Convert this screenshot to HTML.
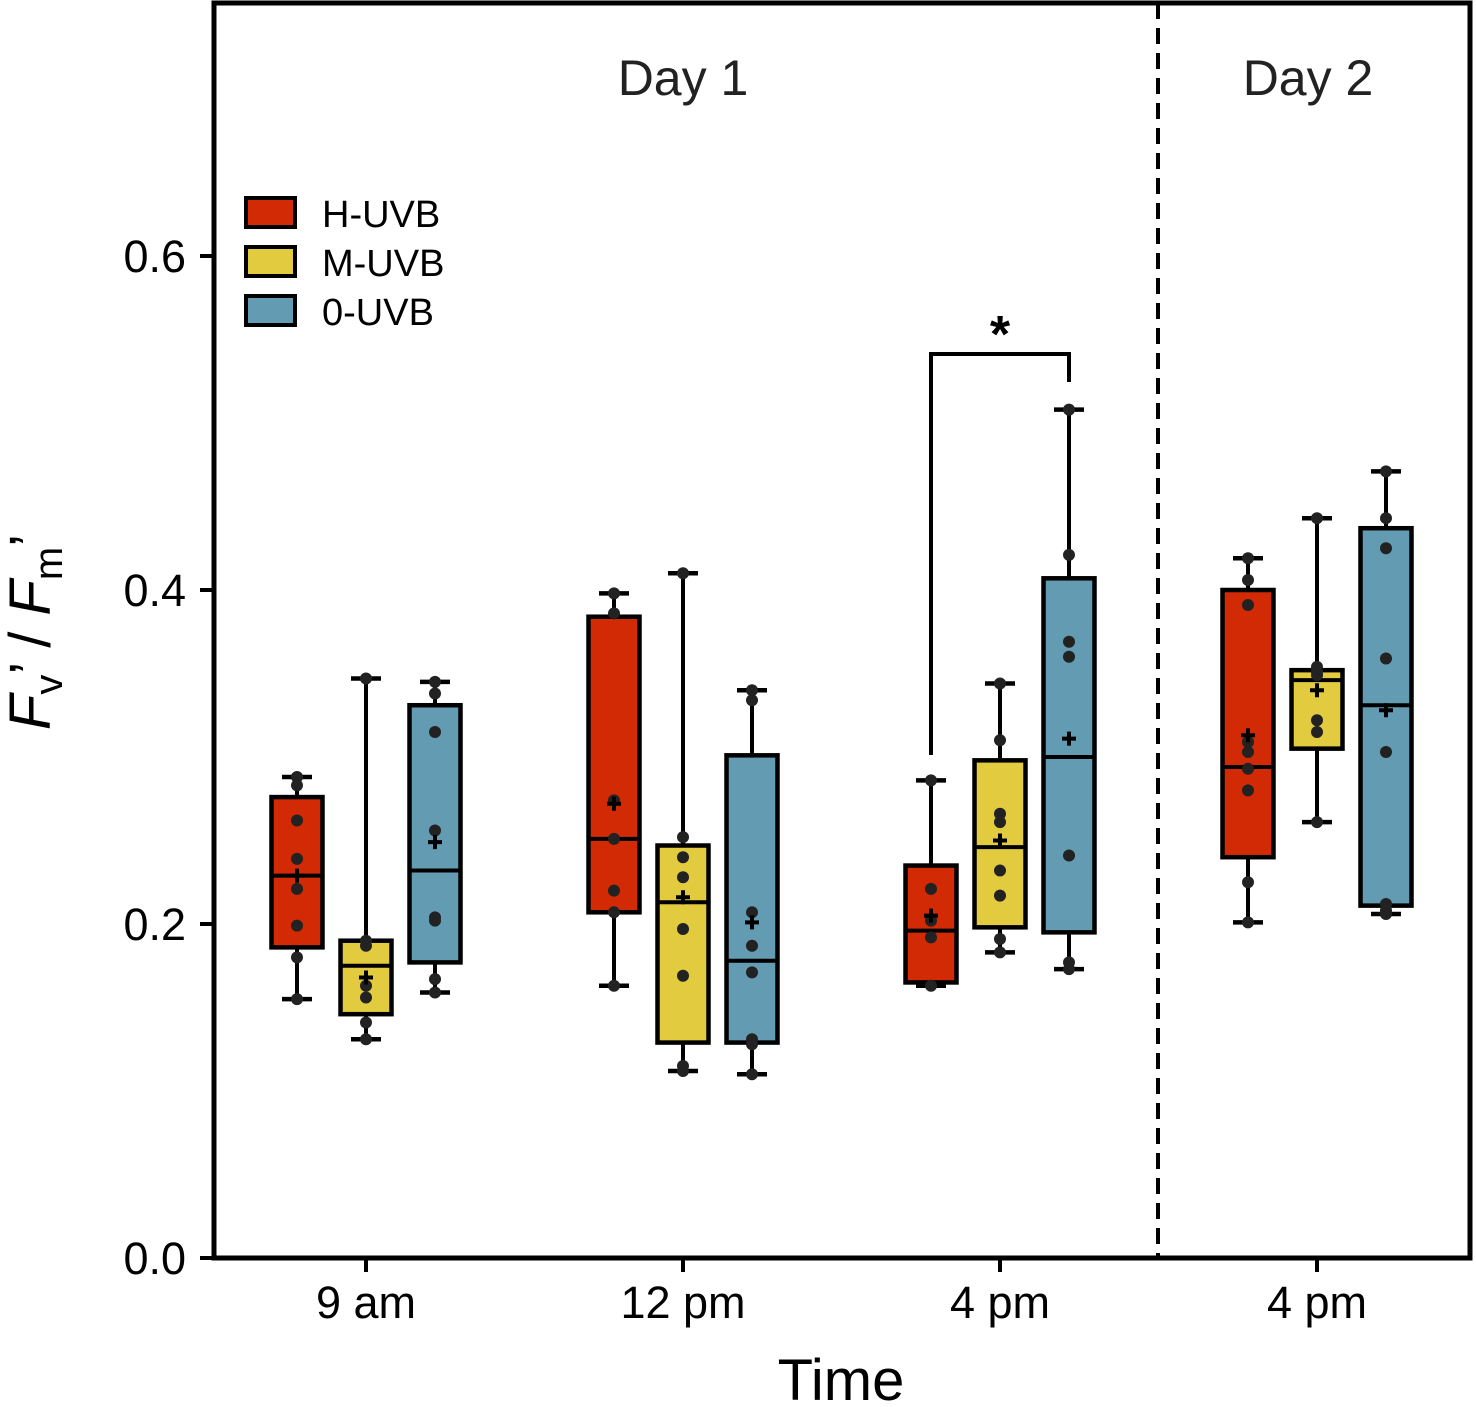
<!DOCTYPE html>
<html><head><meta charset="utf-8"><style>
body{margin:0;background:#fff}
svg{display:block;font-family:"Liberation Sans",sans-serif}
</style></head><body>
<svg id="c" width="1476" height="1407" viewBox="0 0 1476 1407">
<g><rect x="214" y="3" width="1256" height="1255" fill="none" stroke="#000" stroke-width="5"/></g>
<line x1="1158" y1="3" x2="1158" y2="1258" stroke="#000" stroke-width="4" stroke-dasharray="16,9"/>
<text x="683" y="95" text-anchor="middle" font-size="50" fill="#222">Day 1</text>
<text x="1308" y="95" text-anchor="middle" font-size="50" fill="#222">Day 2</text>
<path d="M931 755V354H1069V382" fill="none" stroke="#000" stroke-width="4"/>
<text x="1000" y="352" text-anchor="middle" font-size="52" font-weight="bold">*</text>
<g>
<rect x="246" y="198" width="49" height="29" fill="#d12a05" stroke="#000" stroke-width="4"/>
<rect x="246" y="247" width="49" height="29" fill="#e3cb3f" stroke="#000" stroke-width="4"/>
<rect x="246" y="296" width="49" height="29" fill="#629bb2" stroke="#000" stroke-width="4"/>
<text x="322" y="227" font-size="38" fill="#000">H-UVB</text>
<text x="322" y="276" font-size="38" fill="#000">M-UVB</text>
<text x="322" y="325" font-size="38" fill="#000">0-UVB</text>
</g>
<text x="841" y="1400" text-anchor="middle" font-size="58" fill="#000">Time</text>
<text transform="translate(50,632) rotate(-90)" text-anchor="middle" font-size="58" fill="#000"><tspan font-style="italic">F</tspan><tspan font-size="40" dy="12">v</tspan><tspan dy="-12">’ / </tspan><tspan font-style="italic">F</tspan><tspan font-size="40" dy="12">m</tspan><tspan dy="-12">’</tspan></text>
<g id="plot"></g>
</svg>
<script>
const groups=["9 am","12 pm","4 pm","4 pm"];
const series=["H-UVB","M-UVB","0-UVB"];
const colors=["#d12a05","#e3cb3f","#629bb2"];
// [whiskerLo,q1,median,q3,whiskerHi,mean]
const stats=[
 [[0.155,0.186,0.229,0.276,0.288,0.229],[0.131,0.146,0.175,0.190,0.347,0.168],[0.159,0.177,0.232,0.331,0.345,0.249]],
 [[0.163,0.207,0.251,0.384,0.398,0.272],[0.112,0.129,0.213,0.247,0.410,0.216],[0.110,0.129,0.178,0.301,0.340,0.201]],
 [[0.163,0.165,0.196,0.235,0.286,0.205],[0.183,0.198,0.246,0.298,0.344,0.250],[0.173,0.195,0.300,0.407,0.508,0.311]],
 [[0.201,0.240,0.294,0.400,0.419,0.313],[0.261,0.305,0.346,0.352,0.443,0.340],[0.206,0.211,0.331,0.437,0.471,0.328]]
];
const points=[
 [[0.288,0.283,0.262,0.239,0.221,0.199,0.180,0.155],[0.347,0.190,0.187,0.163,0.156,0.141,0.131],[0.345,0.338,0.315,0.256,0.204,0.202,0.167,0.159]],
 [[0.398,0.386,0.274,0.251,0.220,0.207,0.163],[0.410,0.252,0.240,0.228,0.197,0.169,0.115,0.112],[0.340,0.334,0.207,0.187,0.171,0.131,0.128,0.110]],
 [[0.286,0.221,0.202,0.192,0.163],[0.344,0.310,0.266,0.261,0.232,0.217,0.191,0.183],[0.508,0.421,0.369,0.360,0.241,0.177,0.173]],
 [[0.419,0.406,0.391,0.309,0.303,0.293,0.280,0.225,0.201],[0.443,0.354,0.351,0.349,0.322,0.315,0.261],[0.471,0.443,0.425,0.359,0.303,0.212,0.208,0.206]]
];
const yTicks=[0.0,0.2,0.4,0.6];
const yTickLabels=["0.0","0.2","0.4","0.6"];
const y=v=>1258-v*1670;
const gx=i=>366+i*317;
const bx=(i,j)=>gx(i)+(j-1)*69;
const NS="http://www.w3.org/2000/svg";
const svg=document.getElementById('plot');
function mk(t,a,p){const e=document.createElementNS(NS,t);for(const k in a)e.setAttribute(k,a[k]);(p||svg).appendChild(e);return e;}
yTicks.forEach((v,k)=>{
 const t=mk('line',{x1:200,x2:214,y1:y(v),y2:y(v),stroke:'#000','stroke-width':4});
 
 
 const l=mk('text',{x:186,y:y(v)+16,'text-anchor':'end','font-size':45,fill:'#000'});
 l.textContent=yTickLabels[k];
 
 
});
groups.forEach((g,i)=>{
 const t=mk('line',{x1:gx(i),x2:gx(i),y1:1258,y2:1272,stroke:'#000','stroke-width':4});
 
 
 const l=mk('text',{x:gx(i),y:1318,'text-anchor':'middle','font-size':45,fill:'#000'});
 l.textContent=g;
 
 
});
stats.forEach((gs,i)=>gs.forEach((s,j)=>{
 const cx=bx(i,j),w=51;
 const g=mk('g',{});
 
 
 mk('line',{x1:cx,x2:cx,y1:y(s[0]),y2:y(s[4]),stroke:'#000','stroke-width':4},g);
 mk('line',{x1:cx-15,x2:cx+15,y1:y(s[0]),y2:y(s[0]),stroke:'#000','stroke-width':4.5},g);
 mk('line',{x1:cx-15,x2:cx+15,y1:y(s[4]),y2:y(s[4]),stroke:'#000','stroke-width':4.5},g);
 mk('rect',{x:cx-w/2,y:y(s[3]),width:w,height:y(s[1])-y(s[3]),fill:colors[j],stroke:'#000','stroke-width':4.5},g);
 mk('line',{x1:cx-w/2,x2:cx+w/2,y1:y(s[2]),y2:y(s[2]),stroke:'#000','stroke-width':4},g);
 points[i][j].forEach(p=>{
  const d=mk('circle',{cx:cx,cy:y(p),r:6,fill:'#222'},g);
  
  
 });
 const m=mk('path',{d:`M${cx-7} ${y(s[5])}h14M${cx} ${y(s[5])-7}v14`,stroke:'#000','stroke-width':4},g);
 
 
}));
</script>
</body></html>
